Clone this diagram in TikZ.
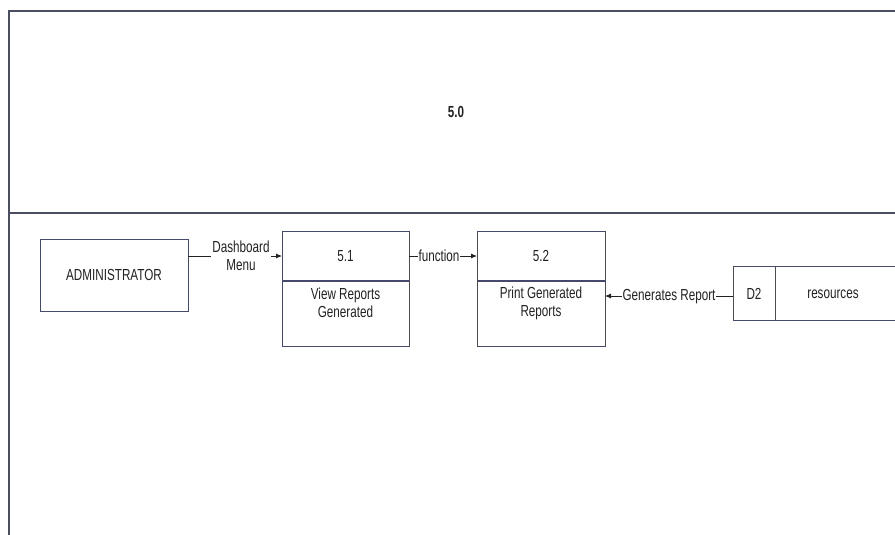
\documentclass[tikz,border=0pt]{standalone}
\usepackage{fontspec}
\setmainfont{Liberation Sans}[FakeStretch=0.73]
\usetikzlibrary{arrows.meta}
\definecolor{frame}{HTML}{4A4E63}
\definecolor{boxc}{HTML}{454A6A}
\definecolor{ink}{HTML}{222222}
\tikzset{
  box/.style={draw=boxc,line width=0.9pt,text=ink},
  frm/.style={draw=frame,line width=1.3pt},
  flow/.style={draw=ink,line width=0.8pt,-{Latex[length=6pt,width=5pt]}},
  lbl/.style={fill=white,inner sep=1pt,text=ink,font=\fontsize{16}{18}\selectfont,align=center},
  txt/.style={text=ink,font=\fontsize{16}{18}\selectfont,align=center}
}
\begin{document}
\begin{tikzpicture}[x=1pt,y=-1pt]
\useasboundingbox (0,0) rectangle (895,535);
% frame
\draw[frm] (9,535) -- (9,11) -- (895,11);
\draw[frm] (9,213) -- (895,213);
\node[txt,font=\fontsize{16}{18}\selectfont\bfseries] (title) at (456,112) {5.0};
% administrator
\draw[box] (40,239) rectangle (188,311);
\node[txt] (admin) at (114,275) {ADMINISTRATOR};
\coordinate (adminE) at (188,256);
% process 5.1
\draw[box] (282,231) rectangle (409,346);
\draw[box,line width=1.6pt] (282,281) -- (409,281);
\node[txt] (p1id) at (345.5,256) {5.1};
\node[txt] (p1) at (345.5,303) {View Reports\\Generated};
\coordinate (p1W) at (282,256);
\coordinate (p1E) at (409,256);
% process 5.2
\draw[box] (477,231) rectangle (605,346);
\draw[box,line width=1.6pt] (477,281) -- (605,281);
\node[txt] (p2id) at (541,256) {5.2};
\node[txt] (p2) at (541,303) {Print Generated\\Reports};
\coordinate (p2W) at (477,256);
\coordinate (p2E) at (605,296);
% data store D2
\draw[box] (895,266) -- (733,266) -- (733,320) -- (895,320);
\draw[box] (775,266) -- (775,320);
\node[txt] (d2id) at (754,294) {D2};
\node[txt] (d2) at (833,294) {resources};
\coordinate (d2W) at (733,296);
% flows
\draw[flow] (adminE) -- node[lbl,xshift=6pt] {Dashboard\\Menu} (p1W);
\draw[flow] (p1E) -- node[lbl,xshift=-4pt] {function} (p2W);
\draw[flow] (d2W) -- node[lbl,yshift=-1pt] {Generates Report} (p2E);
\end{tikzpicture}
\end{document}
